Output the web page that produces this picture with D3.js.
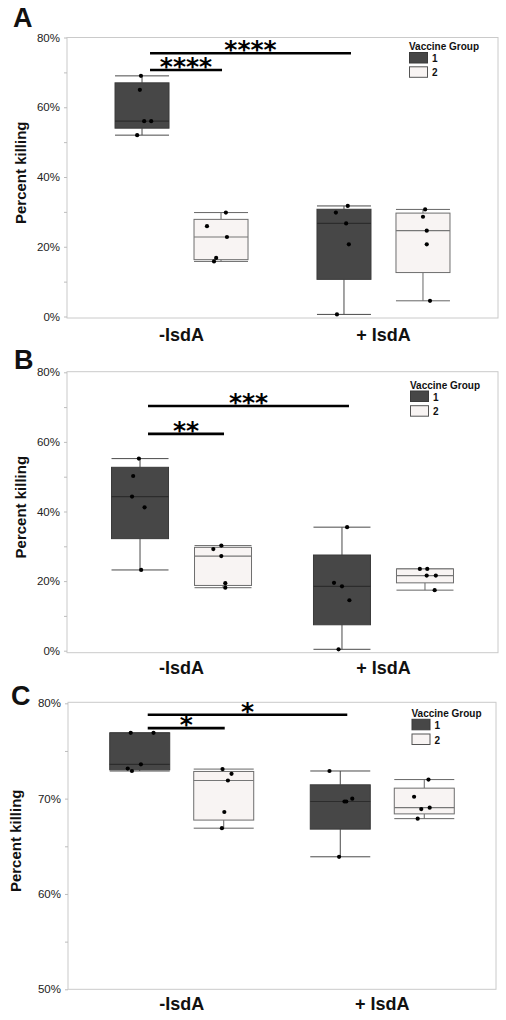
<!DOCTYPE html>
<html><head><meta charset="utf-8">
<script src="https://cdn.jsdelivr.net/npm/d3@7"></script>
<style>body{margin:0;background:#fff}</style>
</head><body>
<svg id="c" width="506" height="1020"></svg>
<script>
// ---------- DATA ----------
const categories = ["-IsdA", "+ IsdA"];
const groups = ["1", "2"];
const legendTitle = "Vaccine Group";
const yTitle = "Percent killing";

// Panel A (percent killing)
const aMinus1 = [52, 56, 56, 65, 69];
const aMinus2 = [15.8, 16.8, 22.8, 25.9, 29.8];
const aPlus1  = [0.6, 20.7, 26.7, 29.8, 31.7];
const aPlus2  = [4.5, 20.7, 24.6, 28.6, 30.7];
const aJitter = [[-0.09, 0.04, 0.17, -0.04, -0.02], [-0.13, -0.09, 0.11, -0.26, 0.09],
                 [-0.13, 0.09, 0.04, -0.15, 0.07], [0.13, 0.07, 0.07, 0, 0.04]];
const aTicks = [0, 10, 20, 30, 40, 50, 60, 70, 80];
const aLabels = [0, 20, 40, 60, 80];
const aSig = [{y: 70.7, label: "****", long: false}, {y: 75.5, label: "****", long: true}];

// Panel B
const bMinus1 = [23.2, 41.2, 44.3, 50.2, 55.2];
const bMinus2 = [18.1, 19.4, 27.2, 29.2, 30.2];
const bPlus1  = [0.4, 14.5, 18.5, 19.5, 35.5];
const bPlus2  = [17.4, 21.6, 21.6, 23.5, 23.5];
const bJitter = [[0.02, 0.08, -0.14, -0.12, -0.02], [0.04, 0.04, -0.03, -0.17, -0.03],
                 [-0.06, 0.13, 0, -0.14, 0.09], [0.17, 0.03, 0.19, -0.09, 0.04]];
const bTicks = [0, 10, 20, 30, 40, 50, 60, 70, 80];
const bLabels = [0, 20, 40, 60, 80];
const bSig = [{y: 62.3, label: "**", long: false}, {y: 70.3, label: "***", long: true}];

// Panel C
const cMinus1 = [72.9, 73.15, 73.6, 76.9, 76.9];
const cMinus2 = [66.9, 68.6, 71.9, 72.6, 73.1];
const cPlus1  = [63.9, 69.7, 69.7, 70.0, 72.9];
const cPlus2  = [67.9, 68.9, 69.05, 70.2, 72.0];
const cJitter = [[-0.13, -0.2, 0.02, -0.15, 0.23], [-0.03, 0.01, 0.07, 0.13, -0.02],
                 [-0.02, 0.07, 0.1, 0.2, -0.18], [-0.11, -0.05, 0.09, -0.17, 0.07]];
const cTicks = [50, 55, 60, 65, 70, 75, 80];
const cLabels = [50, 60, 70, 80];
const cSig = [{y: 77.4, label: "*", long: false}, {y: 78.8, label: "*", long: true}];

// ---------- LAYOUT / STYLE ----------
const panels = [
  {letter: "A", lx: 13, ly: 27, top: 37.5, bottom: 318, left: 67, right: 498, yZero: 316.5, yTop: 37.5,
   domain: [0, 80], ticks: aTicks, labels: aLabels, off: 39.5, bw: 54, titleX: 22,
   series: [[aMinus1, aMinus2], [aPlus1, aPlus2]], jitter: aJitter, sig: aSig,
   leg: {x: 409, ty: 49.5, s1: 52.5, s2: 66.8}, xlab: 340.5},
  {letter: "B", lx: 14, ly: 369, top: 371.7, bottom: 652.7, left: 67, right: 498, yZero: 650.7, yTop: 372.3,
   domain: [0, 80], ticks: bTicks, labels: bLabels, off: 41.5, bw: 57, titleX: 22,
   series: [[bMinus1, bMinus2], [bPlus1, bPlus2]], jitter: bJitter, sig: bSig,
   leg: {x: 410, ty: 388.5, s1: 391, s2: 405.7}, xlab: 674},
  {letter: "C", lx: 11, ly: 705, top: 702.3, bottom: 989.3, left: 68, right: 496, yZero: 989.3, yTop: 703.3,
   domain: [50, 80], ticks: cTicks, labels: cLabels, off: 42, bw: 60, titleX: 17,
   series: [[cMinus1, cMinus2], [cPlus1, cPlus2]], jitter: cJitter, sig: cSig,
   leg: {x: 411.5, ty: 717.3, s1: 719.3, s2: 734}, xlab: 1010}
];

const fills = {"1": "#474747", "2": "#f8f4f3"};
const strokes = {"1": "#3a3a3a", "2": "#6e6e6e"};
const medians = {"1": "#2c2c2c", "2": "#777"};
const FONT = "'Liberation Sans', Arial, sans-serif";

function q6(sorted, p) {
  const n = sorted.length, pos = p * (n + 1);
  if (pos <= 1) return sorted[0];
  if (pos >= n) return sorted[n - 1];
  const lo = Math.floor(pos), f = pos - lo;
  return sorted[lo - 1] + f * (sorted[lo] - sorted[lo - 1]);
}

const svg = d3.select("#c");

panels.forEach(P => {
  const g = svg.append("g");
  const y = d3.scaleLinear().domain(P.domain).range([P.yZero, P.yTop]);
  const x = d3.scalePoint().domain(categories).range([P.left, P.right]).padding(0.567);
  const xs = d3.scaleBand().domain(groups)
    .range([-(P.off + P.bw / 2), P.off + P.bw / 2])
    .paddingInner(1 - P.bw / (2 * P.off));
  const bw = xs.bandwidth();
  const cx = (cat, grp) => x(cat) + xs(grp) + bw / 2;

  g.append("text").attr("x", P.lx).attr("y", P.ly).text(P.letter)
    .attr("font-family", FONT).attr("font-weight", "bold").attr("font-size", 27).attr("fill", "#111");

  g.append("rect").attr("x", P.left).attr("y", P.top)
    .attr("width", P.right - P.left).attr("height", P.bottom - P.top)
    .attr("fill", "none").attr("stroke", "#cacaca").attr("stroke-width", 1);

  const ax = g.append("g").attr("transform", `translate(${P.left},0)`)
    .call(d3.axisLeft(y).tickValues(P.ticks).tickSize(3).tickPadding(4)
      .tickFormat(d => P.labels.includes(d) ? d + "%" : ""));
  ax.select(".domain").remove();
  ax.selectAll("line").attr("stroke", "#bdbdbd");
  ax.selectAll("text").attr("font-family", FONT).attr("font-size", 11.5).attr("fill", "#222");

  g.append("text").attr("transform", `translate(${P.titleX},${(P.top + P.bottom) / 2 - 5}) rotate(-90)`)
    .attr("text-anchor", "middle").attr("dominant-baseline", "middle")
    .attr("font-family", FONT).attr("font-weight", "bold").attr("font-size", 15).attr("fill", "#111")
    .text(yTitle);

  g.selectAll(".xl").data(categories).enter().append("text")
    .attr("x", d => x(d)).attr("y", P.xlab).attr("text-anchor", "middle")
    .attr("font-family", FONT).attr("font-weight", "bold").attr("font-size", 18).attr("fill", "#111")
    .text(d => d);

  categories.forEach((cat, ci) => {
    groups.forEach((grp, gi) => {
      const vals = P.series[ci][gi].slice().sort((a, b) => a - b);
      const jit = P.jitter[ci * 2 + gi];
      const q1 = q6(vals, 0.25), med = q6(vals, 0.5), q3 = q6(vals, 0.75);
      const mn = d3.min(vals), mx = d3.max(vals);
      const c = cx(cat, grp), x0 = c - bw / 2;
      const wc = grp === "1" ? "#4a4a4a" : "#666";
      g.append("line").attr("x1", c).attr("x2", c).attr("y1", y(mx)).attr("y2", y(q3)).attr("stroke", wc);
      g.append("line").attr("x1", c).attr("x2", c).attr("y1", y(q1)).attr("y2", y(mn)).attr("stroke", wc);
      [mn, mx].forEach(v => g.append("line").attr("x1", x0).attr("x2", x0 + bw)
        .attr("y1", y(v)).attr("y2", y(v)).attr("stroke", wc));
      g.append("rect").attr("x", x0).attr("y", y(q3)).attr("width", bw)
        .attr("height", Math.max(0.5, y(q1) - y(q3)))
        .attr("fill", fills[grp]).attr("stroke", strokes[grp]).attr("stroke-width", 1);
      g.append("line").attr("x1", x0).attr("x2", x0 + bw).attr("y1", y(med)).attr("y2", y(med))
        .attr("stroke", medians[grp]).attr("stroke-width", 1.2);
      g.selectAll(null).data(P.series[ci][gi].map((v, i) => ({v, j: jit[i]}))).enter()
        .append("circle").attr("cx", d => c + d.j * bw).attr("cy", d => y(d.v))
        .attr("r", 2.1).attr("fill", "#000");
    });
  });

  P.sig.forEach(s => {
    const x1 = cx(categories[0], groups[0]) + 8;
    const x2 = s.long ? cx(categories[1], groups[0]) + 7 : cx(categories[0], groups[1]) + 1;
    g.append("line").attr("x1", x1).attr("x2", x2).attr("y1", y(s.y)).attr("y2", y(s.y))
      .attr("stroke", "#000").attr("stroke-width", 2.6);
    g.append("text").attr("x", (x1 + x2) / 2).attr("y", y(s.y) + 5).attr("text-anchor", "middle")
      .attr("font-family", "'DejaVu Sans', sans-serif").attr("font-weight", "bold").attr("font-size", 25)
      .attr("fill", "#000").text(s.label);
  });

  const L = P.leg;
  g.append("text").attr("x", L.x).attr("y", L.ty).text(legendTitle)
    .attr("font-family", FONT).attr("font-weight", "bold").attr("font-size", 10).attr("fill", "#111");
  groups.forEach((grp, i) => {
    const sy = i === 0 ? L.s1 : L.s2;
    g.append("rect").attr("x", L.x + 0.5).attr("y", sy).attr("width", 18).attr("height", 10.5)
      .attr("fill", fills[grp]).attr("stroke", grp === "1" ? "#3a3a3a" : "#555").attr("stroke-width", 1);
    g.append("text").attr("x", L.x + 23).attr("y", sy + 9.5).text(grp)
      .attr("font-family", FONT).attr("font-weight", "bold").attr("font-size", 10).attr("fill", "#111");
  });
});
</script>
</body></html>
